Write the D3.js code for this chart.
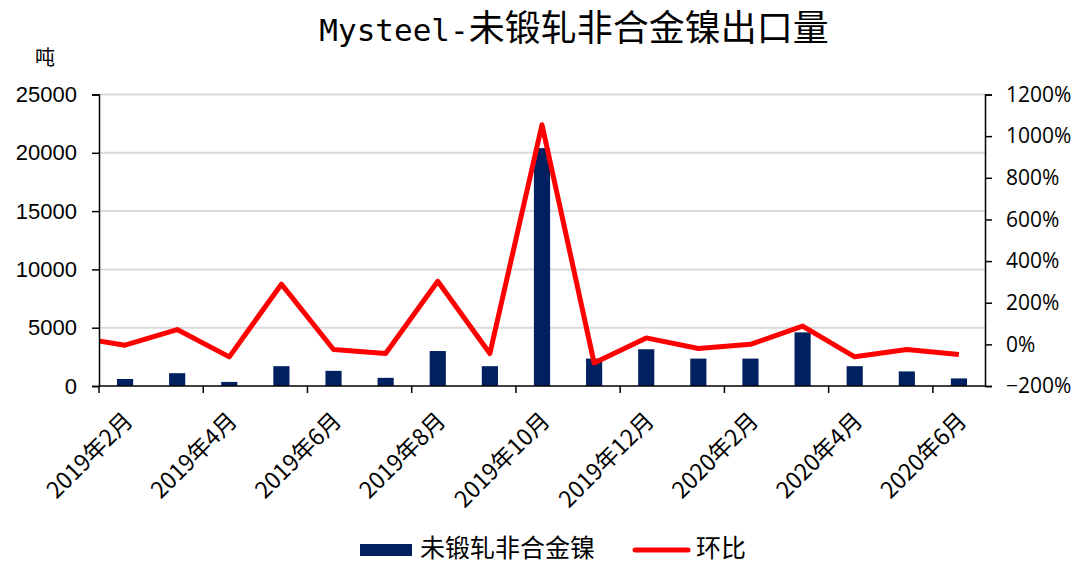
<!DOCTYPE html>
<html>
<head>
<meta charset="utf-8">
<script src="https://cdn.jsdelivr.net/npm/d3@7"></script>
<style>
  body { margin: 0; background: #fff; }
  svg { display: block; }
</style>
</head>
<body>
<div id="chart"></div>
<script>
// ── data ──
const months = [
  "2019年2月", "2019年3月", "2019年4月", "2019年5月", "2019年6月", "2019年7月",
  "2019年8月", "2019年9月", "2019年10月", "2019年11月", "2019年12月",
  "2020年1月", "2020年2月", "2020年3月", "2020年4月", "2020年5月", "2020年6月",
];
const exportTons = [
  600, 1100, 350, 1700, 1300, 700, 3000, 1700, 20400, 2350, 3150,
  2350, 2350, 4600, 1700, 1250, 650,
];
const momPct = [
  -4, 71, -60, 289, -25, -44, 303, -44, 1055, -89, 31,
  -20, 0, 88, -60, -25, -49,
];
const momPrev = 37; // 2019年1月, only its tail shows at the left edge
const leftTicks = [0, 5000, 10000, 15000, 20000, 25000];
const rightTicks = [-200, 0, 200, 400, 600, 800, 1000, 1200];

const C = { bar: "#002060", line: "#ff0000", grid: "#d9d9d9", axis: "#000" };

const W = 1077, H = 565,
  M = { t: 94.5, r: 92, b: 179, l: 99 },
  w = W - M.l - M.r,
  h = H - M.t - M.b;

const svg = d3.select("#chart").append("svg")
  .attr("width", W).attr("height", H);

const x = d3.scaleBand().domain(months).range([M.l, M.l + w]).padding(0);
const step = x.step();
const yL = d3.scaleLinear().domain([0, 25000]).range([M.t + h, M.t]);
const yR = d3.scaleLinear().domain([-200, 1200]).range([M.t + h, M.t]);

// title
const title = svg.append("text")
  .attr("x", 574).attr("y", 41)
  .attr("text-anchor", "middle")
  .attr("fill", "#000");
title.append("tspan")
  .attr("font-family", "'DejaVu Sans Mono', monospace")
  .attr("font-size", "31px")
  .text("Mysteel-");
title.append("tspan")
  .attr("font-family", "'Noto Sans CJK SC', sans-serif")
  .attr("font-size", "36px")
  .text("未锻轧非合金镍出口量");

svg.append("text")
  .attr("x", 45).attr("y", 65)
  .attr("text-anchor", "middle")
  .attr("font-family", "'Noto Sans CJK SC', sans-serif")
  .attr("font-size", "20px")
  .text("吨");

// gridlines
svg.append("g").selectAll("line")
  .data(leftTicks.filter((d) => d > 0))
  .join("line")
  .attr("x1", M.l).attr("x2", M.l + w)
  .attr("y1", (d) => yL(d)).attr("y2", (d) => yL(d))
  .attr("stroke", C.grid).attr("stroke-width", 2);

// bars
const bw = step * 0.31;
svg.append("g").selectAll("rect")
  .data(months)
  .join("rect")
  .attr("x", (d) => x(d) + (step - bw) / 2)
  .attr("width", bw)
  .attr("y", (d, i) => yL(exportTons[i]))
  .attr("height", (d, i) => yL(0) - yL(exportTons[i]))
  .attr("fill", C.bar);

// line (clipped to plot so the Jan tail starts at the axis)
svg.append("clipPath").attr("id", "plot-clip")
  .append("rect")
  .attr("x", M.l).attr("y", 0)
  .attr("width", w).attr("height", H);
const pts = [{ cx: x(months[0]) + step / 2 - step, v: momPrev }]
  .concat(months.map((m, i) => ({ cx: x(m) + step / 2, v: momPct[i] })));
svg.append("path")
  .datum(pts)
  .attr("clip-path", "url(#plot-clip)")
  .attr("fill", "none")
  .attr("stroke", C.line)
  .attr("stroke-width", 5)
  .attr("stroke-linejoin", "round")
  .attr("d", d3.line().x((d) => d.cx).y((d) => yR(d.v)));

// left axis
const axL = svg.append("g")
  .attr("transform", `translate(${M.l},0)`)
  .call(d3.axisLeft(yL).tickValues(leftTicks).tickSize(7).tickPadding(15).tickFormat(d3.format("d")));
axL.selectAll("text")
  .attr("font-family", "'Liberation Sans', Arial, sans-serif")
  .attr("font-size", "22px").attr("fill", "#000");

// right axis
const axR = svg.append("g")
  .attr("transform", `translate(${M.l + w},0)`)
  .call(d3.axisRight(yR).tickValues(rightTicks).tickSize(7).tickPadding(14)
    .tickFormat((d) => (d < 0 ? "−" + Math.abs(d) : d) + "%"));
axR.selectAll("text")
  .attr("font-family", "'Open Sans', 'Noto Sans', sans-serif")
  .attr("font-size", "21px").attr("fill", "#000");

[axL, axR].forEach((a) => {
  a.select(".domain").attr("stroke", C.axis).attr("stroke-width", 1.5);
  a.selectAll(".tick line").attr("stroke", C.axis).attr("stroke-width", 1.5);
});

// x axis
const gx = svg.append("g");
gx.append("line")
  .attr("x1", M.l).attr("x2", M.l + w)
  .attr("y1", yL(0)).attr("y2", yL(0))
  .attr("stroke", C.axis).attr("stroke-width", 1.5);
gx.selectAll(".xt")
  .data(d3.range(0, months.length, 2))
  .join("line")
  .attr("class", "xt")
  .attr("x1", (i) => M.l + i * step).attr("x2", (i) => M.l + i * step)
  .attr("y1", yL(0)).attr("y2", yL(0) + 7)
  .attr("stroke", C.axis).attr("stroke-width", 1.5);
gx.selectAll(".xl")
  .data(months.filter((d, i) => i % 2 === 0))
  .join("text")
  .attr("class", "xl")
  .attr("transform", (d) => `translate(${x(d) + step / 2 - 3},${yL(0) + 24}) rotate(-45)`)
  .attr("text-anchor", "end")
  .attr("dy", "0.75em")
  .attr("font-family", "'Noto Sans CJK SC', sans-serif")
  .attr("font-size", "23px")
  .attr("fill", "#000")
  .text((d) => d);

// legend
const lg = svg.append("g").attr("font-family", "'Noto Sans CJK SC', sans-serif")
  .attr("font-size", "25px");
lg.append("rect")
  .attr("x", 360).attr("y", 544).attr("width", 52).attr("height", 12)
  .attr("fill", C.bar);
lg.append("text").attr("x", 420).attr("y", 557).text("未锻轧非合金镍");
lg.append("line")
  .attr("x1", 635).attr("x2", 688).attr("y1", 550).attr("y2", 550)
  .attr("stroke", C.line).attr("stroke-width", 5).attr("stroke-linecap", "round");
lg.append("text").attr("x", 696).attr("y", 557).text("环比");
</script>
</body>
</html>
